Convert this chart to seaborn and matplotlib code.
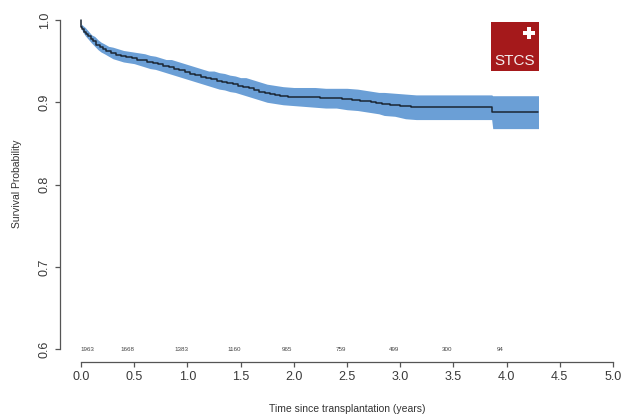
import matplotlib
matplotlib.use("Agg")
import matplotlib.pyplot as plt
import matplotlib.patches as mpatches
import seaborn as sns

# Kaplan-Meier estimate with 95% band
time_years = [0.000, 0.005, 0.02, 0.04, 0.06, 0.08, 0.10, 0.13, 0.16, 0.19, 0.22, 0.26,
              0.30, 0.35, 0.40, 0.45, 0.50, 0.55, 0.60, 0.65, 0.70, 0.75, 0.80, 0.85,
              0.90, 0.95, 1.00, 1.05, 1.10, 1.15, 1.20, 1.25, 1.30, 1.35, 1.40, 1.45,
              1.50, 1.55, 1.60, 1.65, 1.70, 1.75, 1.80, 1.85, 1.90, 2.00, 2.10, 2.20,
              2.30, 2.40, 2.50, 2.60, 2.65, 2.70, 2.75, 2.80, 2.85, 2.95, 3.05, 3.15,
              3.86, 3.87, 4.30]
survival = [1.000, 0.992, 0.989, 0.986, 0.983, 0.980, 0.977, 0.974, 0.970, 0.967, 0.965, 0.962,
            0.960, 0.958, 0.956, 0.955, 0.954, 0.952, 0.951, 0.949, 0.948, 0.946, 0.944, 0.943,
            0.941, 0.939, 0.937, 0.935, 0.933, 0.931, 0.929, 0.928, 0.926, 0.925, 0.923, 0.922,
            0.920, 0.919, 0.917, 0.915, 0.913, 0.911, 0.910, 0.909, 0.908, 0.907, 0.906, 0.906,
            0.905, 0.905, 0.904, 0.903, 0.902, 0.901, 0.900, 0.899, 0.898, 0.897, 0.895, 0.894,
            0.894, 0.888, 0.888]
ci_lower = [1.000, 0.989, 0.985, 0.981, 0.978, 0.975, 0.972, 0.968, 0.964, 0.961, 0.959, 0.956,
            0.953, 0.951, 0.949, 0.948, 0.947, 0.945, 0.943, 0.941, 0.940, 0.938, 0.936, 0.934,
            0.932, 0.930, 0.928, 0.926, 0.924, 0.922, 0.920, 0.918, 0.916, 0.915, 0.913, 0.912,
            0.910, 0.908, 0.906, 0.904, 0.902, 0.900, 0.899, 0.898, 0.897, 0.896, 0.895, 0.894,
            0.893, 0.893, 0.891, 0.890, 0.889, 0.888, 0.887, 0.886, 0.884, 0.883, 0.880, 0.879,
            0.879, 0.868, 0.868]
ci_upper = [1.000, 0.995, 0.993, 0.991, 0.988, 0.985, 0.982, 0.980, 0.976, 0.973, 0.971, 0.968,
            0.967, 0.965, 0.963, 0.962, 0.961, 0.960, 0.959, 0.957, 0.956, 0.954, 0.952, 0.952,
            0.950, 0.948, 0.946, 0.944, 0.942, 0.940, 0.938, 0.938, 0.936, 0.935, 0.933, 0.932,
            0.930, 0.930, 0.928, 0.926, 0.924, 0.922, 0.921, 0.920, 0.919, 0.918, 0.918, 0.918,
            0.917, 0.917, 0.917, 0.916, 0.915, 0.914, 0.913, 0.912, 0.912, 0.911, 0.910, 0.909,
            0.909, 0.908, 0.908]

# numbers at risk
risk_pos = [0.06, 0.44, 0.94, 1.44, 1.94, 2.44, 2.94, 3.44, 3.94]
risk_n = ["1963", "1668", "1383", "1160", "965", "759", "499", "300", "94"]

x_ticks = [0.0, 0.5, 1.0, 1.5, 2.0, 2.5, 3.0, 3.5, 4.0, 4.5, 5.0]
y_ticks = [0.6, 0.7, 0.8, 0.9, 1.0]

sns.set_style("ticks")
plt.rcParams["font.family"] = ["Liberation Sans", "DejaVu Sans"]

fig = plt.figure(figsize=(6.22, 4.2), dpi=100)
ax = fig.add_axes([60 / 622, 58 / 420, 560 / 622, 352 / 420])

band = "#6b9fd6"
ax.fill_between(time_years, ci_lower, ci_upper, color=band, lw=0)
sns.lineplot(x=time_years, y=survival, drawstyle="steps-mid", estimator=None,
             color="#1b2633", lw=1.1, ax=ax)

ax.set_xlim(-0.197, 5.066)
ax.set_ylim(0.5843, 1.0122)

for pos, n in zip(risk_pos, risk_n):
    ax.text(pos, 0.6, n, fontsize=4.5, color="#444444", ha="center", va="center")

sns.despine(ax=ax)
ax.spines["left"].set_bounds(0.6, 1.0)
ax.spines["bottom"].set_bounds(0.0, 5.0)
for s in ("left", "bottom"):
    ax.spines[s].set_color("#555555")
    ax.spines[s].set_linewidth(0.9)

ax.set_xticks(x_ticks)
ax.set_yticks(y_ticks)
ax.set_xticklabels([f"{v:.1f}" for v in x_ticks])
ax.set_yticklabels([f"{v:.1f}" for v in y_ticks], rotation=90, va="center")
ax.tick_params(axis="both", labelsize=9, colors="#555555", labelcolor="#3a3a3a",
               length=3.5, width=0.9, pad=3)

ax.set_xlabel("Time since transplantation (years)", fontsize=7.5, color="#333333")
ax.set_ylabel("Survival Probability", fontsize=7.5, color="#333333")
ax.xaxis.set_label_coords(0.5125, -0.119)
ax.yaxis.set_label_coords(-0.068, 0.505)

# STCS logo
logo_red = "#a5191b"
fig.patches.append(mpatches.Rectangle((491 / 622, (420 - 71) / 420), 48 / 622, 49 / 420,
                                      transform=fig.transFigure, color=logo_red, lw=0))
fig.patches.append(mpatches.Rectangle((522.5 / 622, (420 - 35) / 420), 12 / 622, 4 / 420,
                                      transform=fig.transFigure, color="white", lw=0))
fig.patches.append(mpatches.Rectangle((526.5 / 622, (420 - 39) / 420), 4 / 622, 12 / 420,
                                      transform=fig.transFigure, color="white", lw=0))
fig.text(515 / 622, (420 - 61) / 420, "STCS", color="#f4ecec", fontsize=11,
         fontweight="normal", ha="center", va="center")

fig.savefig("out.png", dpi=100)
